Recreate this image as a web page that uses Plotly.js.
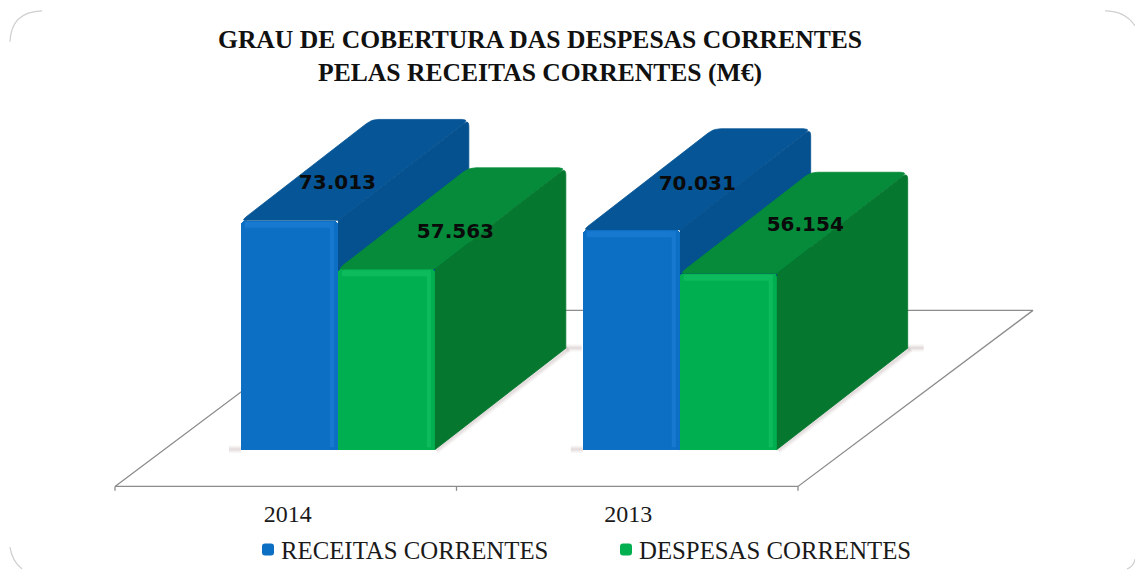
<!DOCTYPE html>
<html>
<head>
<meta charset="utf-8">
<script src="https://cdn.plot.ly/plotly-3.0.1.min.js"></script>
<style>html,body{margin:0;padding:0;background:#fff}</style>
</head>
<body>
<div id="chart" style="width:1135px;height:573px"></div>
<script>
// ---- data ----
const years = ['2014', '2013'];
const receitas = [73013, 70031];
const despesas = [57563, 56154];
const seriesNames = ['RECEITAS CORRENTES', 'DESPESAS CORRENTES'];
const titleLines = ['GRAU DE COBERTURA DAS DESPESAS CORRENTES', 'PELAS RECEITAS CORRENTES (M€)'];

// ---- oblique projection of the 3-D box chart onto the 2-D axes ----
const W = 1135, H = 573;
const PX_PER_CAT = 341.5, PX_PER_VAL = 3.15 / 1000;
const FLOOR_LEFT_PX = 115, ZERO_PX = 452;
const xRange = [-FLOOR_LEFT_PX / PX_PER_CAT, (W - FLOOR_LEFT_PX) / PX_PER_CAT];
const yRange = [-(H - ZERO_PX) / PX_PER_VAL, ZERO_PX / PX_PER_VAL];
const DX = 235 / PX_PER_CAT, DY = 177 / PX_PER_VAL;    // floor depth vector
const Z_FRONT = 0.209, Z_BACK = 0.766, Z_BACK_Y = 0.785; // bar depth span on the floor
const BAR_START = [0.225, 1.226], BAR_W = 0.284;       // bar left on the floor, by category

function P(cat, z, val, zy) { return [cat + z * DX, val + ((zy === undefined ? z : zy) - Z_FRONT) * DY]; }

function rounded(pts, rPx) {                          // round polygon corners
  const out = [];
  pts.forEach((p, i) => {
    const a = pts[(i + pts.length - 1) % pts.length], b = pts[(i + 1) % pts.length];
    const r = rPx[i];
    if (!r) { out.push(p); return; }
    const toward = q => {
      const dx = (q[0] - p[0]) * PX_PER_CAT, dy = (q[1] - p[1]) * PX_PER_VAL;
      const t = Math.min(0.5, r / Math.hypot(dx, dy));
      return [p[0] + (q[0] - p[0]) * t, p[1] + (q[1] - p[1]) * t];
    };
    const s = toward(a), e = toward(b);
    for (let k = 0; k <= 5; k++) {
      const t = k / 5, u = 1 - t;
      out.push([u * u * s[0] + 2 * u * t * p[0] + t * t * e[0], u * u * s[1] + 2 * u * t * p[1] + t * t * e[1]]);
    }
  });
  return out;
}
function polys(list) {
  const x = [], y = [];
  list.forEach(poly => { poly.forEach(p => { x.push(p[0]); y.push(p[1]); }); x.push(null); y.push(null); });
  return { x, y };
}
function topFace(c0, w, v) {
  return rounded([P(c0, Z_FRONT, v), P(c0, Z_BACK, v, Z_BACK_Y), P(c0 + w, Z_BACK, v, Z_BACK_Y), P(c0 + w, Z_FRONT, v)], [6, 7, 7, 0]);
}
function sideFace(c0, w, v) {
  const c = c0 + w;
  return rounded([P(c, Z_FRONT, v), P(c, Z_BACK, v, Z_BACK_Y), P(c, Z_BACK, 0, Z_BACK_Y), P(c, Z_FRONT, 0)], [0, 7, 0, 0]);
}
function face(list, color, onTop, seam) {
  const d = polys(list);
  const tr = { type: 'scatter', mode: 'lines', x: d.x, y: d.y, fill: 'toself',
    fillcolor: color, line: { width: seam ? 0.8 : 0, color: color }, hoverinfo: 'skip', showlegend: false };
  if (onTop) { tr.xaxis = 'x2'; tr.yaxis = 'y2'; }
  return tr;
}
function fmt(n) { return String(n).replace(/\B(?=(\d{3})+$)/g, '.'); }

const traces = [];

// floor frame
const floor = polys([[P(0, 0, 0), P(2, 0, 0), P(2, 1, 0), P(0, 1, 0), P(0, 0, 0)]]);
[0, 1, 2].forEach(c => {
  const a = P(c, 0, 0), b = P(c, 0, -1400);
  floor.x.push(a[0], b[0], null); floor.y.push(a[1], b[1], null);
});
traces.push({ type: 'scatter', mode: 'lines', x: floor.x, y: floor.y, line: { color: '#8c8c8c', width: 1.3 },
  hoverinfo: 'skip', showlegend: false, connectgaps: false });

// soft shadows along the base of the boxes
[7, 4, 2].forEach(w => {
  const sx = [], sy = [];
  BAR_START.forEach(c0 => {
    const c = c0 + 2 * BAR_W;
    const a = P(c, Z_FRONT, 0), b = P(c, Z_BACK, 0, Z_BACK_Y);
    sx.push(a[0] + 0.004, b[0] + 0.008, null); sy.push(a[1] - 200, b[1] - 200, null);
    const l = P(c0, Z_FRONT, 0);
    sx.push(l[0] - 12 / PX_PER_CAT, l[0], null); sy.push(l[1] + 100, l[1] + 100, null);
    sx.push(b[0], b[0] + 16 / PX_PER_CAT, null); sy.push(b[1] + 100, b[1] + 100, null);
  });
  traces.push({ type: 'scatter', mode: 'lines', x: sx, y: sy, line: { color: 'rgba(150,125,125,0.09)', width: w },
    hoverinfo: 'skip', showlegend: false });
});

const seriesColors = [
  { front: '#0c6fc4', top: '#065596', side: '#05508e', bevel: 'rgba(70,165,255,0.20)' },
  { front: '#00b050', top: '#058b3a', side: '#05772f', bevel: 'rgba(70,235,140,0.20)' }
];

// receding faces of the first series lie behind every front face
const startsOf = s => BAR_START.map(c0 => c0 + s * BAR_W);
traces.push(face(startsOf(0).map((c0, i) => topFace(c0, BAR_W, receitas[i])), seriesColors[0].top, false, true));
traces.push(face(startsOf(0).map((c0, i) => sideFace(c0, BAR_W, receitas[i])), seriesColors[0].side, false, true));

// front faces: real bars
[receitas, despesas].forEach((vals, s) => {
  traces.push({ type: 'bar', name: seriesNames[s], xaxis: 'x2', yaxis: 'y2',
    x: startsOf(s).map(c0 => P(c0 + BAR_W / 2, Z_FRONT, 0)[0]), y: vals, width: BAR_W,
    marker: { color: seriesColors[s].front, cornerradius: 4, line: { width: 0 } }, hoverinfo: 'skip' });
});

// receding faces of the second series
traces.push(face(startsOf(1).map((c0, i) => topFace(c0, BAR_W, despesas[i])), seriesColors[1].top, true, true));
traces.push(face(startsOf(1).map((c0, i) => sideFace(c0, BAR_W, despesas[i])), seriesColors[1].side, true, true));

// lighter bevels on the front faces
[receitas, despesas].forEach((vals, s) => {
  const bev = [];
  startsOf(s).forEach((c0, i) => {
    const h = 7 / PX_PER_VAL, ins = 4 / PX_PER_CAT, strip = 4 / PX_PER_CAT;
    const a = P(c0, Z_FRONT, vals[i]), b = P(c0 + BAR_W, Z_FRONT, vals[i]);
    bev.push([[a[0] + ins, a[1] - 300], [b[0] - ins, b[1] - 300], [b[0] - ins, b[1] - h], [a[0] + ins, a[1] - h]]);
    bev.push([[b[0] - ins - strip, b[1] - h], [b[0] - ins, b[1] - h], [b[0] - ins, P(c0, Z_FRONT, 800)[1]], [b[0] - ins - strip, P(c0, Z_FRONT, 800)[1]]]);
  });
  traces.push(face(bev, seriesColors[s].bevel, true, false));
});

// value labels, sitting on the top faces
const labelShift = [[[48, -37], [66, -45]], [[69, -36], [77, -48]]];
const lx = [], ly = [], lt = [];
[receitas, despesas].forEach((vals, s) => {
  vals.forEach((v, i) => {
    const c = P(BAR_START[i] + s * BAR_W + BAR_W / 2, Z_FRONT, v);
    lx.push(c[0] + labelShift[s][i][0] / PX_PER_CAT);
    ly.push(c[1] - labelShift[s][i][1] / PX_PER_VAL);
    lt.push(fmt(v));
  });
});
traces.push({ type: 'scatter', mode: 'text', x: lx, y: ly, text: lt, xaxis: 'x2', yaxis: 'y2',
  textposition: 'middle center', textfont: { family: '"DejaVu Sans"', size: 20, color: '#0a0a0a', weight: 700 },
  hoverinfo: 'skip', showlegend: false });

// faint rounded-corner frame (only the corners are visible in the picture)
function arc(x0, y0, x1, y1, cx, cy) {
  return { type: 'path', xref: 'paper', yref: 'paper', layer: 'below',
    path: 'M' + x0 / W + ',' + (1 - y0 / H) + ' Q' + cx / W + ',' + (1 - cy / H) + ' ' + x1 / W + ',' + (1 - y1 / H),
    line: { color: '#cfcfcf', width: 1.2 } };
}

const layout = {
  width: W, height: H, margin: { l: 0, r: 0, t: 0, b: 0 }, autosize: false,
  paper_bgcolor: '#ffffff', plot_bgcolor: 'rgba(0,0,0,0)',
  barmode: 'overlay', bargap: 0,
  title: { text: titleLines.join('<br>'), x: 540 / W, xanchor: 'center', xref: 'paper',
    y: 1 - 48 / H, yanchor: 'top', yref: 'container',
    font: { family: '"Liberation Serif"', size: 25.6, color: '#111', weight: 700 } },
  xaxis: { range: xRange, domain: [0, 1], anchor: 'free', position: (H - 500) / H, showgrid: false, zeroline: false,
    showline: false, ticks: '', tickmode: 'array', tickvals: [0.506, 1.503], ticktext: years,
    tickfont: { family: '"Liberation Serif"', size: 24, color: '#1a1a1a' } },
  yaxis: { range: yRange, domain: [0, 1], visible: false, showgrid: false, zeroline: false },
  xaxis2: { range: xRange, overlaying: 'x', visible: false, anchor: 'y2' },
  yaxis2: { range: yRange, overlaying: 'y', visible: false, anchor: 'x2' },
  legend: { orientation: 'h', x: 241 / W, xanchor: 'left', y: 1 - 553 / H, yanchor: 'middle',
    font: { family: '"Liberation Serif"', size: 24.8, color: '#1a1a1a' }, bgcolor: 'rgba(0,0,0,0)',
    entrywidth: 313, entrywidthmode: 'pixels', traceorder: 'normal' },
  shapes: [arc(10, 42, 42, 11, 11, 12), arc(1105, 11, 1135, 26, 1125, 11), arc(10, 550, 22, 572, 12, 564), arc(1135, 562, 1127, 572, 1134, 569)],
  showlegend: true
};

Plotly.newPlot('chart', traces, layout, { displayModeBar: false, staticPlot: true }).then(() => {
  // bring the legend swatches next to their text
  document.querySelectorAll('.legend .legendsymbols').forEach(g => g.setAttribute('transform', 'translate(7,0)'));
});
</script>
</body>
</html>
